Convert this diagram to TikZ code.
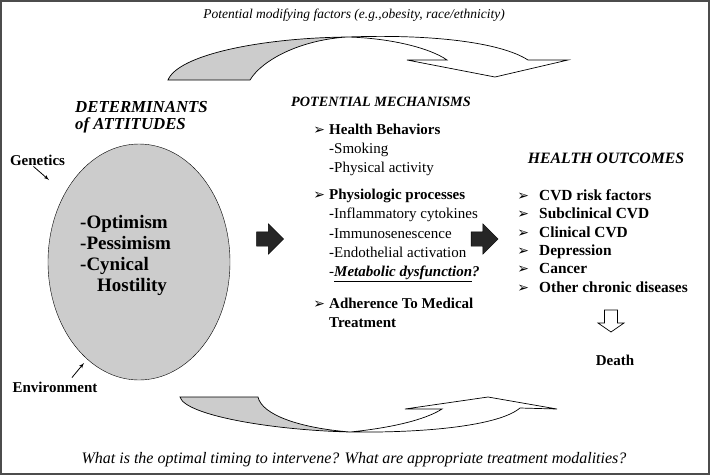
\documentclass[tikz,border=0pt]{standalone}
\usepackage{fontspec}
\setmainfont{Liberation Serif}
\newfontfamily\dingfont{DejaVu Sans}
\usepackage{tikz}
\usetikzlibrary{positioning}
\usetikzlibrary{shapes, arrows}
\tikzstyle{ptr} = [draw, -latex', thick]
\tikzstyle{head} = [font=\fontsize{15.5}{16.5}\selectfont\bfseries\itshape, inner sep=0pt]
\tikzstyle{note} = [font=\fontsize{13.5}{16}\selectfont\itshape, inner sep=0pt]
\tikzstyle{txt} = [font=\fontsize{15}{19.2}\selectfont, align=left, inner sep=0pt]
\tikzstyle{lbl} = [font=\fontsize{15}{18}\selectfont\bfseries, inner sep=0pt]
\tikzstyle{ribbon} = [draw, line width=0.7pt, fill=black!20]
\tikzstyle{fatarrow} = [single arrow, draw, fill=black!85, inner xsep=0pt, inner ysep=7pt, single arrow head extend=8pt, minimum width=30pt, minimum height=27pt]
\newcommand{\bul}[1]{\llap{{\dingfont\fontsize{14}{14}\selectfont ➢}\hspace{#1}}}

\begin{document}
\begin{tikzpicture}[x=1pt, y=-1pt]
\useasboundingbox (0,0) rectangle (710,475);
\draw[black!70, line width=1.5pt] (1,1) rectangle (709,474);

\node[note] (factors) at (354,15) {Potential modifying factors (e.g.,obesity, race/ethnicity)};
\node[note, font=\fontsize{16}{18}\selectfont\itshape] (timing) at (354,460) {What is the optimal timing to intervene? What are appropriate treatment modalities?};

% upper ribbon
\draw[ribbon] (168,80) -- (250,80) .. controls (262,60) and (300,40) .. (347,37) .. controls (260,38) and (178,55) .. (168,80) -- cycle;
\draw[ribbon, fill=white] (347,37) .. controls (430,34) and (500,42) .. (528,60) -- (568,60) -- (495,77) -- (407,60) -- (447,60) .. controls (430,48) and (390,38) .. (347,37) -- cycle;

% lower ribbon
\draw[ribbon] (180,397) -- (258,397) .. controls (262,415) and (300,428) .. (350,432) .. controls (270,430) and (185,415) .. (180,397) -- cycle;
\draw[ribbon, fill=white] (350,432) .. controls (430,433) and (500,425) .. (520,408) -- (557,409) -- (488,397) -- (405,409) -- (442,409) .. controls (425,420) and (390,428) .. (350,432) -- cycle;

% determinants
\node[head, font=\fontsize{16.8}{16.5}\selectfont\bfseries\itshape, anchor=west, align=left] (determ) at (75,117) {DETERMINANTS\\of ATTITUDES};
\node[draw, ellipse, fill=black!20, minimum width=182pt, minimum height=236pt, inner sep=0pt] (attitudes) at (139,262) {};
\node[txt, font=\fontsize{19}{21}\selectfont\bfseries, anchor=west] (attlist) at (80,255.5) {-Optimism\\-Pessimism\\-Cynical\\\hspace*{17pt}Hostility};
\node[lbl] (genetics) at (37.5,160) {Genetics};
\node[lbl] (environ) at (55,387) {Environment};
\coordinate (gtip) at (49,180);
\coordinate (etip) at (84,363);
\draw[ptr] ([xshift=-4pt, yshift=-1pt]genetics.south) -- (gtip);
\draw[ptr] ([xshift=17pt, yshift=4pt]environ.north) -- (etip);

% mechanisms
\node[head, font=\fontsize{14.2}{16}\selectfont\bfseries\itshape] (mech) at (381,102) {POTENTIAL MECHANISMS};
\node[txt, anchor=west] (behav) at (329,150) {\bul{4pt}\textbf{Health Behaviors}\\-Smoking\\-Physical activity};
\node[txt, anchor=west] (physio) at (329,235.5) {\bul{4pt}\textbf{Physiologic processes}\\-Inflammatory cytokines\\-Immunosenescence\\-Endothelial activation\\-\textbf{\textit{\underline{Metabolic dysfunction}?}}};
\node[txt, anchor=west] (adher) at (329,312.5) {\bul{4pt}\textbf{Adherence To Medical}\\\textbf{Treatment}};
\node[fatarrow] (arrowA) at (266.5,239) {};
\node[fatarrow] (arrowB) at (481,239) {};

% outcomes
\node[head, font=\fontsize{15.8}{16}\selectfont\bfseries\itshape] (outhead) at (606,158) {HEALTH OUTCOMES};
\node[txt, font=\fontsize{15.4}{18.4}\selectfont\bfseries, anchor=west] (outlist) at (539,241) {\bul{10pt}CVD risk factors\\\bul{10pt}Subclinical CVD\\\bul{10pt}Clinical CVD\\\bul{10pt}Depression\\\bul{10pt}Cancer\\\bul{10pt}Other chronic diseases};
\coordinate (downarr) at (611,321);
\draw[fill=white, line width=0.7pt] (604.5,310) -- (617.5,310) -- (617.5,323) -- (624,323) -- (611,332) -- (598,323) -- (604.5,323) -- cycle;
\node[lbl] (death) at (615,360) {Death};
\end{tikzpicture}
\end{document}
